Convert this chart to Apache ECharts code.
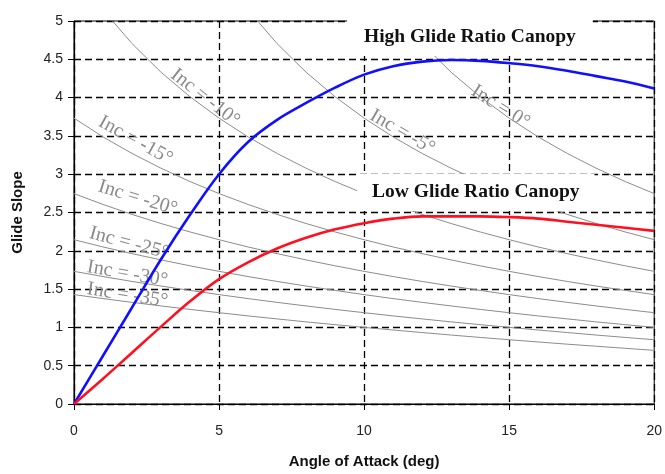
<!DOCTYPE html>
<html>
<head>
<meta charset="utf-8">
<script src="https://cdn.jsdelivr.net/npm/echarts@6/dist/echarts.min.js"></script>
<style>html,body{margin:0;padding:0;background:#fff;}#c{width:665px;height:474px;}</style>
</head>
<body>
<div id="c"></div>
<script>
// ---- data ----
var aoa = [0,1,2,3,4,5,6,7,8,9,10,11,12,13,14,15,16,17,18,19,20];
var highGlide = [0,0.63,1.26,1.89,2.47,3.00,3.42,3.71,3.93,4.13,4.30,4.41,4.47,4.49,4.48,4.45,4.41,4.35,4.28,4.21,4.12];
var lowGlide  = [0,0.33,0.67,1.01,1.34,1.63,1.85,2.03,2.17,2.28,2.36,2.42,2.45,2.45,2.45,2.44,2.42,2.38,2.34,2.30,2.26];
var inc0   = [null,null,null,null,null,null,null,null,null,null,null,5.145,4.705,4.331,4.011,3.732,3.487,3.271,3.078,2.904,2.747];
var incM5  = [null,null,null,null,null,null,5.145,4.705,4.331,4.011,3.732,3.487,3.271,3.078,2.904,2.747,2.605,2.475,2.356,2.246,2.145];
var incM10 = [null,5.145,4.705,4.331,4.011,3.732,3.487,3.271,3.078,2.904,2.747,2.605,2.475,2.356,2.246,2.145,2.050,1.963,1.881,1.804,1.732];
var incM15 = [3.732,3.487,3.271,3.078,2.904,2.747,2.605,2.475,2.356,2.246,2.145,2.050,1.963,1.881,1.804,1.732,1.664,1.600,1.540,1.483,1.428];
var incM20 = [2.747,2.605,2.475,2.356,2.246,2.145,2.050,1.963,1.881,1.804,1.732,1.664,1.600,1.540,1.483,1.428,1.376,1.327,1.280,1.235,1.192];
var incM25 = [2.145,2.050,1.963,1.881,1.804,1.732,1.664,1.600,1.540,1.483,1.428,1.376,1.327,1.280,1.235,1.192,1.150,1.111,1.072,1.036,1.000];
var incM30 = [1.732,1.664,1.600,1.540,1.483,1.428,1.376,1.327,1.280,1.235,1.192,1.150,1.111,1.072,1.036,1.000,0.966,0.933,0.900,0.869,0.839];
var incM35 = [1.428,1.376,1.327,1.280,1.235,1.192,1.150,1.111,1.072,1.036,1.000,0.966,0.933,0.900,0.869,0.839,0.810,0.781,0.754,0.727,0.700];
var incNames = ['Inc = 0°','Inc = -5°','Inc = -10°','Inc = -15°','Inc = -20°','Inc = -25°','Inc = -30°','Inc = -35°'];
var incSeries = [inc0, incM5, incM10, incM15, incM20, incM25, incM30, incM35];
// label anchor (data coords) and slant (deg) for each Inc curve label
var incLabelAoA   = [14.70, 11.32, 4.52, 2.12, 2.20, 1.90, 1.84, 1.84];
var incLabelSlope = [3.88, 3.55, 4.00, 3.44, 2.69, 2.10, 1.70, 1.42];
var incLabelAngle = [32, 30, 38, 29, 17, 15, 10, 9];
var titleHigh = 'High Glide Ratio Canopy';
var titleLow = 'Low Glide Ratio Canopy';

function pairs(v){ return aoa.map(function(a,i){ return [a, v[i]]; }); }

var series = [];
incSeries.forEach(function(v, k){
  series.push({
    type:'line', name: incNames[k], data: pairs(v), showSymbol:false, symbol:'none',
    lineStyle:{color:'#8c8c8c', width:1}, z:2, silent:true, clip:true
  });
});
series.push({type:'line', name:titleHigh, data:pairs(highGlide), smooth:0.35, symbol:'none',
  lineStyle:{color:'#1010ff', width:2.6}, z:4, clip:true});
series.push({type:'line', name:titleLow, data:pairs(lowGlide), smooth:0.35, symbol:'none',
  lineStyle:{color:'#ff1020', width:2.6}, z:4, clip:true});

var chart = echarts.init(document.getElementById('c'), null, {renderer:'canvas'});
var option = {
  backgroundColor:'#ffffff',
  animation:false,
  grid:{left:74, right:8, top:21, bottom:66, show:true, borderColor:'#000', borderWidth:1, backgroundColor:'transparent'},
  title:[
    {text:titleHigh, left:347, top:17, padding:[10,17,9,17], backgroundColor:'#fff',
     textStyle:{fontFamily:'Liberation Serif', fontWeight:'bold', fontSize:19.5, color:'#111', lineHeight:20}},
    {text:titleLow, left:357, top:174, padding:[8,15,9,15], backgroundColor:'#fff',
     textStyle:{fontFamily:'Liberation Serif', fontWeight:'bold', fontSize:19.5, color:'#111', lineHeight:20}}
  ],
  xAxis:{type:'value', min:0, max:20, interval:5,
    name:'Angle of Attack (deg)', nameLocation:'middle', nameGap:50,
    nameTextStyle:{fontFamily:'Liberation Sans', fontWeight:'bold', fontSize:15, color:'#111'},
    axisLine:{lineStyle:{color:'#000', width:1.2}},
    axisTick:{show:true, inside:false, length:6, lineStyle:{color:'#000'}},
    axisLabel:{fontFamily:'Liberation Sans', fontSize:14, color:'#222', margin:20},
    splitLine:{show:true, lineStyle:{color:'#000', type:[7,4], width:1.3}}
  },
  yAxis:{type:'value', min:0, max:5, interval:0.5,
    name:'Glide Slope', nameLocation:'middle', nameGap:49, nameRotate:90,
    nameTextStyle:{fontFamily:'Liberation Sans', fontWeight:'bold', fontSize:15, color:'#111'},
    axisLine:{show:true, lineStyle:{color:'#000', width:1.2}},
    axisTick:{show:true, inside:false, length:6, lineStyle:{color:'#000'}},
    axisLabel:{fontFamily:'Liberation Sans', fontSize:14, color:'#222', margin:11},
    splitLine:{show:true, lineStyle:{color:'#000', type:[7,4], width:1.3}}
  },
  series:series
};
chart.setOption(option);

var g = [];
incNames.forEach(function(n, k){
  var p = chart.convertToPixel({gridIndex:0}, [incLabelAoA[k], incLabelSlope[k]]);
  g.push({type:'text', x:p[0], y:p[1], rotation:-incLabelAngle[k]*Math.PI/180, z:3,
    style:{text:n, fill:'#8a8a8a', font:'20px "Liberation Serif"', textAlign:'center', textVerticalAlign:'middle'}});
});
chart.setOption({graphic:g});
</script>
</body>
</html>
